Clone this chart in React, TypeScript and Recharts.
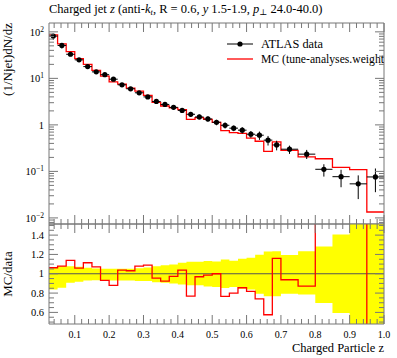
import React from "react";
import { ComposedChart, Line, Scatter, ErrorBar, Area, XAxis, YAxis, ReferenceLine } from "recharts";

// histogram bin edges in z
const binEdges = [
  0.025, 0.05, 0.075, 0.1, 0.125, 0.15, 0.175, 0.2, 0.225, 0.25, 0.275, 0.3, 0.325, 0.35, 0.375, 0.4,
  0.425, 0.45, 0.475, 0.5, 0.525, 0.55, 0.575, 0.6, 0.625, 0.65, 0.675, 0.7, 0.75, 0.8, 0.85, 0.9, 0.95, 1.0,
];

// ATLAS data, (1/Njet)dN/dz per bin
const atlasData = [
  81, 51, 33, 25, 17.9, 13.8, 12.0, 9.6, 7.26, 5.97, 4.9, 4.0, 3.19, 2.75, 2.38, 2.05, 1.69, 1.48, 1.34,
  1.14, 0.98, 0.85, 0.77, 0.63, 0.6, 0.47, 0.37, 0.3, 0.235, 0.111, 0.077, 0.054, 0.076,
];

// MC prediction per bin
const mcData = [
  86, 55, 37.6, 26.6, 19.9, 14.8, 11.2, 8.4, 7.5, 6.2, 5.3, 4.3, 3.06, 2.55, 2.31, 2.13, 1.31, 1.43, 1.32,
  1.13, 0.75, 0.68, 0.66, 0.52, 0.445, 0.27, 0.43, 0.282, 0.205, 0.187, 0.122, 0.109, 0.0134,
];

// MC / data, ratio panel
const mcRatio = [
  1.062, 1.079, 1.138, 1.058, 1.114, 1.072, 0.931, 0.879, 1.037, 1.031, 1.079, 1.089, 0.955, 0.924, 0.972,
  1.037, 0.768, 0.969, 0.985, 1.0, 0.766, 0.8, 0.855, 0.817, 0.741, 0.576, 1.159, 0.938, 0.872, 1.68, 1.58,
  2.0, 0.18,
];

// data uncertainty band (relative), low and high edge
const bandLow = [
  0.838, 0.855, 0.907, 0.917, 0.931, 0.934, 0.934, 0.931, 0.931, 0.931, 0.924, 0.924, 0.913, 0.907, 0.9,
  0.889, 0.882, 0.882, 0.869, 0.862, 0.852, 0.862, 0.845, 0.838, 0.793, 0.766, 0.766, 0.793, 0.786, 0.697,
  0.593, 0.47, 0.47,
];
const bandHigh = [
  1.068, 1.079, 1.079, 1.072, 1.062, 1.055, 1.052, 1.052, 1.052, 1.052, 1.058, 1.065, 1.079, 1.089, 1.096,
  1.114, 1.124, 1.124, 1.131, 1.128, 1.148, 1.134, 1.155, 1.166, 1.197, 1.231, 1.234, 1.193, 1.234, 1.283,
  1.407, 1.52, 1.52,
];

// tick labels
const xMajor = [0.1, 0.2, 0.3, 0.4, 0.5, 0.6, 0.7, 0.8, 0.9, 1.0];
const xMajorLabels = ["0.1", "0.2", "0.3", "0.4", "0.5", "0.6", "0.7", "0.8", "0.9", "1.0"];
const logMajor = [0.01, 0.1, 1, 10, 100];
const logMajorLabels = [["10", "\u22122"], ["10", "\u22121"], ["1", ""], ["10", "1"], ["10", "2"]];
const ratioMajor = [0.6, 0.8, 1, 1.2, 1.4];
const ratioMajorLabels = ["0.6", "0.8", "1", "1.2", "1.4"];

const FONT = "'Liberation Serif', 'DejaVu Serif', serif";
const FRAME = "#777";
const W = 397;

const points = atlasData.map((v, i) => ({
  x: (binEdges[i] + binEdges[i + 1]) / 2,
  y: v,
  ex: (binEdges[i + 1] - binEdges[i]) / 2,
  ey: [v * (1 - bandLow[i]), v * (bandHigh[i] - 1)],
}));
const last = atlasData.length - 1;
const mcSteps = binEdges.map((e, i) => ({ x: e, mc: mcData[Math.min(i, last)] }));
const ratioSteps = binEdges.map((e, i) => {
  const j = Math.min(i, last);
  return { x: e, r: mcRatio[j], band: [bandLow[j], bandHigh[j]] };
});

// tick positions (major + minor)
const xTicks: number[] = [];
for (let k = 2; k <= 50; k++) xTicks.push(k / 50);
const logTicks: number[] = [];
for (let e = -3; e <= 2; e++)
  for (let m = 1; m <= 9; m++) {
    const v = m * Math.pow(10, e);
    if (v >= 0.0074 && v <= 155) logTicks.push(v);
  }
const ratioTicks: number[] = [];
for (let k = 10; k <= 30; k++) ratioTicks.push(k / 20);

const near = (a: number, b: number) => Math.abs(a - b) < 1e-6;
const xIsMajor = (v: number) => xMajor.some((m) => near(m, v));
const logIsMajor = (v: number) => logMajor.some((m) => near(m, v));
const ratioIsMajor = (v: number) => ratioMajor.some((m) => near(m, v));

type Side = "top" | "bottom" | "left" | "right";

const tickFor =
  (side: Side, isMajor: (v: number) => boolean, label?: (v: number) => React.ReactNode) =>
  (props: any) => {
    const { x, y, payload } = props;
    const v = payload.value as number;
    const len = isMajor(v) ? 9 : 5;
    let c = { x1: x, x2: x, y1: y, y2: y };
    if (side === "bottom") c = { x1: x, x2: x, y1: y, y2: y - len };
    if (side === "top") c = { x1: x, x2: x, y1: y, y2: y + len };
    if (side === "left") c = { x1: x, x2: x + len, y1: y, y2: y };
    if (side === "right") c = { x1: x, x2: x - len, y1: y, y2: y };
    const lab = label && isMajor(v) ? label(v) : null;
    return (
      <g>
        <line {...c} stroke={FRAME} strokeWidth={1} />
        {lab && side === "bottom" && (
          <text x={x} y={y + 14} textAnchor="middle" fontSize={10} fontFamily={FONT} fill="#000">
            {lab}
          </text>
        )}
        {lab && side === "left" && (
          <text x={x - 5} y={y} dy="0.35em" textAnchor="end" fontSize={10.5} fontFamily={FONT} fill="#000">
            {lab}
          </text>
        )}
      </g>
    );
  };

const xLabel = (v: number) => xMajorLabels[xMajor.findIndex((m) => near(m, v))];
const ratioLabel = (v: number) => ratioMajorLabels[ratioMajor.findIndex((m) => near(m, v))];
const logLabel = (v: number) => {
  const [base, exp] = logMajorLabels[logMajor.findIndex((m) => near(m, v))];
  return (
    <>
      <tspan>{base}</tspan>
      {exp && (
        <tspan dy={-4} fontSize={7.5}>
          {exp}
        </tspan>
      )}
    </>
  );
};

const axisLine = { stroke: FRAME, strokeWidth: 1 };

export default function App() {
  const xCommon = {
    type: "number" as const,
    dataKey: "x",
    domain: [0.025, 1],
    allowDataOverflow: true,
    ticks: xTicks,
    interval: 0 as const,
    tickSize: 0,
    tickMargin: 0,
    tickLine: false,
    axisLine,
    height: 1,
  };
  const yCommon = {
    type: "number" as const,
    allowDataOverflow: true,
    interval: 0 as const,
    tickSize: 0,
    tickMargin: 0,
    tickLine: false,
    axisLine,
    width: 1,
  };
  return (
    <div style={{ position: "absolute", left: 0, top: 0, width: W, height: 358, background: "#fff" }}>
      <div style={{ position: "absolute", left: 0, top: 0 }}>
        <ComposedChart width={W} height={225} margin={{ top: 22, right: 12, bottom: 0, left: 48 }}>
          <XAxis {...xCommon} xAxisId="b" orientation="bottom" tick={tickFor("bottom", xIsMajor)} />
          <XAxis {...xCommon} xAxisId="t" orientation="top" tick={tickFor("top", xIsMajor)} />
          <YAxis
            {...yCommon}
            yAxisId="l"
            orientation="left"
            scale="log"
            domain={[0.0074, 155]}
            ticks={logTicks}
            tick={tickFor("left", logIsMajor, logLabel)}
          />
          <YAxis
            {...yCommon}
            yAxisId="r"
            orientation="right"
            scale="log"
            domain={[0.0074, 155]}
            ticks={logTicks}
            tick={tickFor("right", logIsMajor)}
          />
          <Line
            xAxisId="b"
            yAxisId="l"
            data={mcSteps}
            dataKey="mc"
            type="stepAfter"
            stroke="#ff0000"
            strokeWidth={1.3}
            dot={false}
            isAnimationActive={false}
          />
          <Scatter
            xAxisId="b"
            yAxisId="l"
            data={points}
            dataKey="y"
            fill="#000"
            isAnimationActive={false}
            shape={(p: any) => <circle cx={p.cx} cy={p.cy} r={2.6} fill="#000" />}
          >
            <ErrorBar dataKey="ey" direction="y" width={0} stroke="#000" strokeWidth={1} />
            <ErrorBar dataKey="ex" direction="x" width={0} stroke="#000" strokeWidth={1} />
          </Scatter>
        </ComposedChart>
      </div>
      <div style={{ position: "absolute", left: 0, top: 223 }}>
        <ComposedChart width={W} height={135} margin={{ top: 0, right: 12, bottom: 33, left: 48 }}>
          <XAxis {...xCommon} xAxisId="b" orientation="bottom" tick={tickFor("bottom", xIsMajor, xLabel)} />
          <XAxis {...xCommon} xAxisId="t" orientation="top" tick={tickFor("top", xIsMajor)} />
          <YAxis
            {...yCommon}
            yAxisId="l"
            orientation="left"
            domain={[0.48, 1.515]}
            ticks={ratioTicks}
            tick={tickFor("left", ratioIsMajor, ratioLabel)}
          />
          <YAxis
            {...yCommon}
            yAxisId="r"
            orientation="right"
            domain={[0.48, 1.515]}
            ticks={ratioTicks}
            tick={tickFor("right", ratioIsMajor)}
          />
          <Area
            xAxisId="b"
            yAxisId="l"
            data={ratioSteps}
            dataKey="band"
            type="stepAfter"
            fill="#ffff00"
            fillOpacity={1}
            stroke="none"
            isAnimationActive={false}
          />
          <ReferenceLine xAxisId="b" yAxisId="l" y={1} stroke="#555" strokeWidth={1} />
          <Line
            xAxisId="b"
            yAxisId="l"
            data={ratioSteps}
            dataKey="r"
            type="stepAfter"
            stroke="#ff0000"
            strokeWidth={1.3}
            dot={false}
            isAnimationActive={false}
          />
        </ComposedChart>
      </div>
      <svg
        width={W}
        height={358}
        style={{ position: "absolute", left: 0, top: 0, pointerEvents: "none" }}
        fontFamily={FONT}
      >
        <defs>
          <clipPath id="frameClip">
            <rect x={0} y={0} width={384} height={358} />
          </clipPath>
        </defs>
        <text x={49} y={13} fontSize={12.5} fill="#000">
          Charged jet <tspan fontStyle="italic">z</tspan> (anti-<tspan fontStyle="italic">k</tspan>
          <tspan fontStyle="italic" fontSize={8.5} dy={2}>
            t
          </tspan>
          <tspan dy={-2}>, R = 0.6, </tspan>
          <tspan fontStyle="italic">y</tspan> 1.5-1.9, <tspan fontStyle="italic">p</tspan>
          <tspan fontSize={8.5} dy={2}>
            {"\u22a5"}
          </tspan>
          <tspan dy={-2}> 24.0-40.0)</tspan>
        </text>
        <text transform="translate(12,23) rotate(-90)" textAnchor="end" fontSize={13} fill="#000">
          (1/Njet)dN/dz
        </text>
        <text transform="translate(12,274) rotate(-90)" textAnchor="middle" fontSize={13} fill="#000">
          MC/data
        </text>
        <text x={384} y={352} textAnchor="end" fontSize={12.5} fill="#000">
          Charged Particle z
        </text>
        <line x1={227} x2={253} y1={44} y2={44} stroke="#000" strokeWidth={1} />
        <circle cx={240} cy={44} r={2.6} fill="#000" />
        <text x={261} y={48} fontSize={12.5} fill="#000" textLength={62} lengthAdjust="spacingAndGlyphs">
          ATLAS data
        </text>
        <line x1={227} x2={253} y1={59} y2={59} stroke="#ff0000" strokeWidth={1.3} />
        <g clipPath="url(#frameClip)">
          <text x={261} y={63} fontSize={12.5} fill="#000" textLength={123} lengthAdjust="spacingAndGlyphs">
            MC (tune-analyses.weight
          </text>
        </g>
      </svg>
    </div>
  );
}
